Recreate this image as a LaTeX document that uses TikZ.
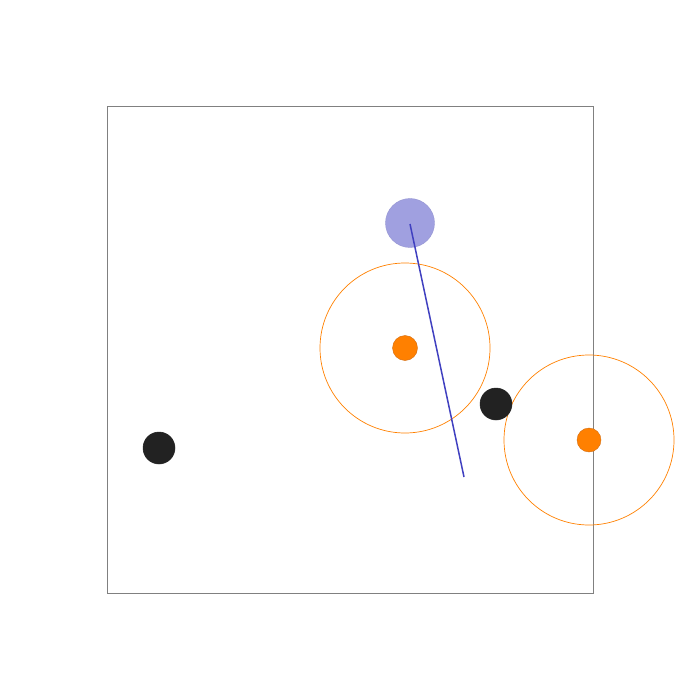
\documentclass[tikz,border=0pt]{standalone}
\definecolor{bfill}{RGB}{160,160,224}
\definecolor{bdraw}{RGB}{150,150,210}
\definecolor{bline}{RGB}{64,64,192}
\definecolor{ofill}{RGB}{255,128,0}
\definecolor{odraw}{RGB}{210,110,20}
\definecolor{kfill}{RGB}{34,34,34}
\definecolor{frame}{RGB}{128,128,128}
\begin{document}
\begin{tikzpicture}[x=1pt,y=-1pt,
  dot/.style={circle,inner sep=0pt,minimum size=#1},
  blk/.style={fill=kfill,draw=kfill,line width=0.5pt},
  org/.style={fill=ofill,draw=odraw,line width=0.4pt},
  ring/.style={draw=ofill,line width=0.7pt}]
\useasboundingbox (0,0) rectangle (700,700);
\draw[frame,line width=1pt] (107,107) rectangle (593,593);
\draw[ring] (405,348) circle (85);
\draw[ring] (589,440) circle (85);
\node[dot=49pt,fill=bfill,draw=bdraw,line width=0.4pt] (b) at (410,223) {};
\coordinate (bc) at (410,224);
\coordinate (e) at (464,477);
\draw[bline,line width=1.5pt] (bc) -- (e);
\node[dot=25pt,org] (o1) at (405,348) {};
\node[dot=24pt,org] (o2) at (589,440) {};
\node[dot=32pt,blk] (k1) at (496,404) {};
\node[dot=32pt,blk] (k2) at (159,448) {};
\end{tikzpicture}
\end{document}
